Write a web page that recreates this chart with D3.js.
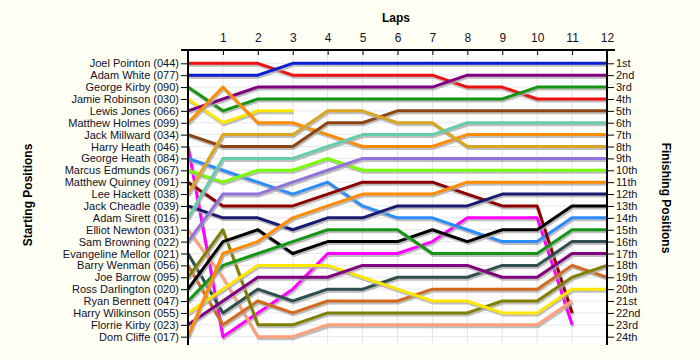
<!DOCTYPE html>
<html><head><meta charset="utf-8">
<script src="https://cdn.jsdelivr.net/npm/d3@7"></script>
<style>
html,body{margin:0;padding:0;background:#fffff4;}
svg{display:block;}
</style></head>
<body>
<svg id="chart" width="700" height="360"></svg>
<script>
// ---- data ----
const laps = [0,1,2,3,4,5,6,7,8,9,10,11,12];
const lapTickLabels = ["1","2","3","4","5","6","7","8","9","10","11","12"];
const drivers = [
  "Joel Pointon (044)","Adam White (077)","George Kirby (090)","Jamie Robinson (030)",
  "Lewis Jones (066)","Matthew Holmes (099)","Jack Millward (034)","Harry Heath (046)",
  "George Heath (084)","Marcus Edmunds (067)","Matthew Quinney (091)","Lee Hackett (038)",
  "Jack Cheadle (039)","Adam Sirett (016)","Elliot Newton (031)","Sam Browning (022)",
  "Evangeline Mellor (021)","Barry Wenman (056)","Joe Barrow (095)","Ross Darlington (020)",
  "Ryan Bennett (047)","Harry Wilkinson (055)","Florrie Kirby (023)","Dom Cliffe (017)"
];
const finishLabels = ["1st","2nd","3rd","4th","5th","6th","7th","8th","9th","10th","11th","12th",
  "13th","14th","15th","16th","17th","18th","19th","20th","21st","22nd","23rd","24th"];
const colors = [
  "#ee1111","#0a1ed2","#149614","#ffe600","#800080","#ff8c00","#8b4513","#ff00ff",
  "#2a8cff","#7cfc00","#8b0000","#daa520","#191970","#66cdaa","#ffa07a","#9370db",
  "#2f4f4f","#d2691e","#808000","#000000","#149614","#ffe600","#800080","#ff8c00"
];
// position of each driver at each lap (index = lap); missing laps = retired
const positions = [
  [1,1,1,2,2,2,2,2,3,3,4,4,4],
  [2,2,2,1,1,1,1,1,1,1,1,1,1],
  [3,5,4,4,4,4,4,4,4,4,3,3,3],
  [4,6,5,5],
  [5,4,3,3,3,3,3,3,2,2,2,2,2],
  [6,3,6,6,7,8,8,8,7,7,7,7,7],
  [7,8,8,8,6,6,5,5,5,5,5,5,5],
  [8,24,22,20,17,17,17,16,14,14,14,23],
  [9,10,11,12,11,13,14,14,15,16,16,14,14],
  [10,11,10,10,9,10,10,10,10,10,10,10,10],
  [11,13,13,13,12,11,11,11,12,13,13,22],
  [12,7,7,7,5,5,6,6,8,8,8,8,8],
  [13,14,14,15,14,14,13,13,13,12,12,12,12],
  [14,9,9,9,8,7,7,7,6,6,6,6,6],
  [15,19,24,24,23,23,23,23,23,23,23,21],
  [16,12,12,11,10,9,9,9,9,9,9,9,9],
  [17,22,20,21,20,20,19,19,19,18,18,16,16],
  [18,23,21,22,21,21,21,20,20,20,20,18,19],
  [19,15,23,23,22,22,22,22,22,21,21,19,18],
  [20,16,15,17,16,16,16,15,16,15,15,13,13],
  [21,18,17,16,15,15,15,17,17,17,17,15,15],
  [22,20,18,18,18,19,20,21,21,22,22,20,20],
  [23,21,19,19,19,18,18,18,18,19,19,17,17],
  [24,17,16,14,13,12,12,12,11,11,11,11,11]
];

// ---- layout ----
const svg = d3.select("#chart");
const pLeft = 188, pRight = 607, pTop = 50, pBottom = 345;
const x = d3.scaleLinear().domain([0,12]).range([pLeft,pRight]);
const y = d3.scaleLinear().domain([1,24]).range([63.3,336.7]);
const textColor = "#101028";
const font = "'Liberation Sans', Arial, sans-serif";

svg.append("rect").attr("x",0).attr("y",0).attr("width",700).attr("height",360).attr("fill","#fffff4");
svg.append("rect").attr("x",pLeft).attr("y",pTop).attr("width",pRight-pLeft).attr("height",pBottom-pTop).attr("fill","#ffffff");

// grid
const grid = svg.append("g");
grid.selectAll("line.v").data(laps).join("line").attr("class","v")
  .attr("x1",d=>x(d)).attr("x2",d=>x(d)).attr("y1",pTop).attr("y2",pBottom)
  .attr("stroke","#e4e4e4").attr("stroke-width",1);
grid.selectAll("line.h").data(d3.range(1,25)).join("line").attr("class","h")
  .attr("x1",pLeft).attr("x2",pRight).attr("y1",d=>y(d)).attr("y2",d=>y(d))
  .attr("stroke","#e8e8e8").attr("stroke-width",1);

// lines
const line = d3.line().x((d,i)=>x(laps[i])).y(d=>y(d)).curve(d3.curveLinear);
const series = svg.append("g");
positions.forEach((p,i)=>{
  series.append("path").attr("d",line(p)).attr("fill","none")
    .attr("stroke","#a8a8a8").attr("stroke-width",3).attr("stroke-opacity",0.75)
    .attr("stroke-linejoin","round").attr("transform","translate(1,2)");
  series.append("path").attr("d",line(p)).attr("fill","none")
    .attr("stroke",colors[i]).attr("stroke-width",3)
    .attr("stroke-linejoin","round");
});

// axes
const topAxis = d3.axisTop(x).tickValues(laps.slice(1)).tickFormat((d,i)=>lapTickLabels[i])
  .tickSizeInner(-5).tickSizeOuter(0).tickPadding(8);
const gTop = svg.append("g").attr("transform",`translate(0,${pTop})`).call(topAxis);
gTop.select(".domain").remove();
gTop.selectAll("text").attr("font-size",12).attr("font-family",font).attr("fill",textColor);
gTop.selectAll("line").attr("stroke","#000");

const leftAxis = d3.axisLeft(y).tickValues(d3.range(1,25)).tickFormat(d=>drivers[d-1])
  .tickSizeInner(7).tickSizeOuter(0).tickPadding(2);
const gLeft = svg.append("g").attr("transform",`translate(${pLeft},0)`).call(leftAxis);
gLeft.select(".domain").remove();
gLeft.selectAll("text").attr("font-size",11).attr("font-family",font).attr("fill",textColor);
gLeft.selectAll("line").attr("stroke","#000");

const rightAxis = d3.axisRight(y).tickValues(d3.range(1,25)).tickFormat(d=>finishLabels[d-1])
  .tickSizeInner(7).tickSizeOuter(0).tickPadding(2);
const gRight = svg.append("g").attr("transform",`translate(${pRight},0)`).call(rightAxis);
gRight.select(".domain").remove();
gRight.selectAll("text").attr("font-size",11).attr("font-family",font).attr("fill",textColor);
gRight.selectAll("line").attr("stroke","#000");

svg.append("line").attr("x1",181).attr("x2",615).attr("y1",pTop).attr("y2",pTop).attr("stroke","#000").attr("stroke-width",2);
svg.append("line").attr("x1",pLeft).attr("x2",pLeft).attr("y1",pTop-1).attr("y2",pBottom).attr("stroke","#000").attr("stroke-width",2);
svg.append("line").attr("x1",pRight).attr("x2",pRight).attr("y1",pTop-1).attr("y2",pBottom).attr("stroke","#000").attr("stroke-width",2);

// titles
svg.append("text").attr("x",396).attr("y",22).attr("text-anchor","middle")
  .attr("font-family",font).attr("font-size",12).attr("font-weight","bold").attr("fill","#000").text("Laps");
svg.append("text").attr("transform","translate(32,195) rotate(-90)").attr("text-anchor","middle")
  .attr("font-family",font).attr("font-size",12).attr("font-weight","bold").attr("fill","#000").text("Starting Positions");
svg.append("text").attr("transform","translate(662,198) rotate(90)").attr("text-anchor","middle")
  .attr("font-family",font).attr("font-size",12).attr("font-weight","bold").attr("fill","#000").text("Finishing Positions");
</script>
</body></html>
